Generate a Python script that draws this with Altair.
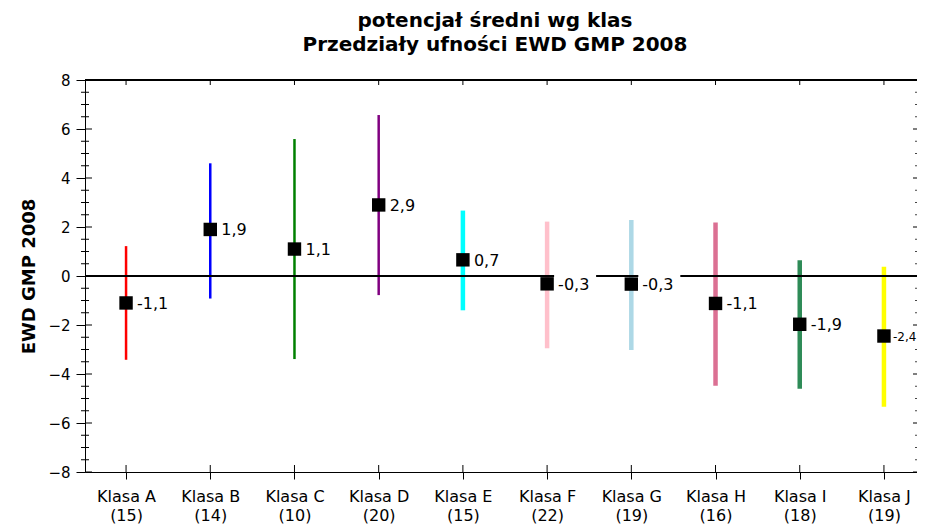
import altair as alt
import pandas as pd

categories = ["Klasa A", "Klasa B", "Klasa C", "Klasa D", "Klasa E",
              "Klasa F", "Klasa G", "Klasa H", "Klasa I", "Klasa J"]
counts = [15, 14, 10, 20, 15, 22, 19, 16, 18, 19]
means = [-1.10, 1.90, 1.10, 2.90, 0.66, -0.32, -0.33, -1.12, -1.97, -2.45]
lower = [-3.42, -0.92, -3.39, -0.78, -1.40, -2.95, -3.02, -4.48, -4.60, -5.34]
upper = [1.22, 4.60, 5.59, 6.57, 2.67, 2.22, 2.29, 2.18, 0.64, 0.38]
value_labels = ["-1,1", "1,9", "1,1", "2,9", "0,7", "-0,3", "-0,3", "-1,1", "-1,9", "-2,4"]
major_ticks = [-8, -6, -4, -2, 0, 2, 4, 6, 8]
minor_ticks = [-7.5, -7, -6.5, -5.5, -5, -4.5, -3.5, -3, -2.5, -1.5, -1, -0.5,
               0.5, 1, 1.5, 2.5, 3, 3.5, 4.5, 5, 5.5, 6.5, 7, 7.5]
thin_classes = ["Klasa A", "Klasa B", "Klasa C", "Klasa D"]
edge_classes = ["Klasa J"]

bar_colors = ["#ff0000", "#0000ff", "#008000", "#800080", "#00ffff",
              "#ffc0cb", "#add8e6", "#db7093", "#2e8b57", "#ffff00"]

W, H = 832, 392
FONT = "DejaVu Sans"

cat_labels = [f"{c}\n({n})" for c, n in zip(categories, counts)]
df = pd.DataFrame({
    "cat": cat_labels,
    "klasa": categories,
    "mean": means,
    "lower": lower,
    "upper": upper,
    "label": value_labels,
})
major_df = pd.DataFrame({"v": major_ticks})
minor_df = pd.DataFrame({"v": minor_ticks})

xscale = alt.Scale(type="point", padding=0.44, align=0.554, domain=cat_labels)
xaxis = alt.Axis(
    labelExpr="split(datum.label, '\\n')",
    labelFont=FONT, labelFontSize=16, labelLineHeight=19,
    labelColor="black", labelAngle=0, labelPadding=9,
    tickSize=7, tickColor="black", domainColor="black",
    grid=False, title=None,
)
yscale = alt.Scale(domain=[-8, 8], nice=False, zero=False)
yaxis = alt.Axis(
    values=major_ticks, tickSize=9, tickColor="black", domainColor="black",
    labelFont=FONT, labelFontSize=15, labelColor="black", labelPadding=6,
    grid=False, title="EWD GMP 2008", titleFont=FONT, titleFontSize=18,
    titleFontWeight="bold", titleColor="black", titlePadding=9,
)

X = alt.X("cat:N", scale=xscale, axis=xaxis, sort=None, title=None)


def Y(field):
    return alt.Y(field, scale=yscale, axis=yaxis, title="EWD GMP 2008")


base = alt.Chart(df)
color_enc = alt.Color("cat:N", scale=alt.Scale(domain=cat_labels, range=bar_colors), legend=None)

thin_pred = alt.FieldOneOfPredicate(field="klasa", oneOf=thin_classes)
edge_pred = alt.FieldOneOfPredicate(field="klasa", oneOf=edge_classes)

bars_thin = base.transform_filter(thin_pred).mark_rule(strokeWidth=2.5).encode(
    x=X, y=Y("lower:Q"), y2="upper:Q", color=color_enc)

bars_thick = base.transform_filter(~thin_pred).mark_rule(strokeWidth=4.5).encode(
    x=X, y=Y("lower:Q"), y2="upper:Q", color=color_enc)

zero = base.mark_rule(color="black", strokeWidth=1).encode(
    y=alt.datum(0, type="quantitative", scale=yscale)
)

top_line = base.mark_rule(color="black", strokeWidth=1).encode(y=alt.value(0))

top_ticks = base.mark_rule(color="black").encode(x=X, y=alt.value(0), y2=alt.value(5))
bottom_ticks = base.mark_rule(color="black").encode(x=X, y=alt.value(H - 7), y2=alt.value(H))

left_major = alt.Chart(major_df).mark_rule(color="black").encode(
    y=Y("v:Q"), x=alt.value(0), x2=alt.value(7),
)
left_minor = alt.Chart(minor_df).mark_rule(color="black").encode(
    y=Y("v:Q"), x=alt.value(-4), x2=alt.value(4),
)
right_major = alt.Chart(major_df).mark_rule(color="black").encode(
    y=Y("v:Q"), x=alt.value(W - 4), x2=alt.value(W),
)
right_minor = alt.Chart(minor_df).mark_rule(color="#444444").encode(
    y=Y("v:Q"), x=alt.value(W - 2), x2=alt.value(W),
)

label_box = base.mark_point(
    shape="M0.7,-0.9L4.9,-0.9L4.9,0.9L0.7,0.9Z", size=400,
    filled=True, color="white", opacity=1, strokeWidth=0,
).encode(x=X, y=Y("mean:Q"))

squares = base.mark_square(size=180, color="black", opacity=1).encode(
    x=X, y=Y("mean:Q"),
)

texts = base.transform_filter(~edge_pred).mark_text(
    align="left", baseline="middle", dx=11, dy=1,
    font=FONT, fontSize=16, color="black",
).encode(x=X, y=Y("mean:Q"), text="label:N")

texts_edge = base.transform_filter(edge_pred).mark_text(
    align="left", baseline="middle", dx=9, dy=1,
    font=FONT, fontSize=12, color="black",
).encode(x=X, y=Y("mean:Q"), text="label:N")

chart = alt.layer(
    bars_thin, bars_thick, zero, top_line, top_ticks, bottom_ticks,
    left_major, left_minor, right_major, right_minor,
    label_box, squares, texts, texts_edge,
).properties(
    width=W, height=H,
    autosize=alt.AutoSizeParams(type="none"),
    padding={"left": 77, "top": 72, "right": 0, "bottom": 53},
    title=alt.TitleParams(
        text=["potencjał średni wg klas", "Przedziały ufności EWD GMP 2008"],
        font=FONT, fontSize=20, fontWeight="bold", color="black",
        anchor="middle", offset=18, lineHeight=24, dx=-6,
    ),
).configure_view(stroke=None).configure(background="white")

chart.save("out.html", embed_options={"renderer": "svg", "actions": False})
